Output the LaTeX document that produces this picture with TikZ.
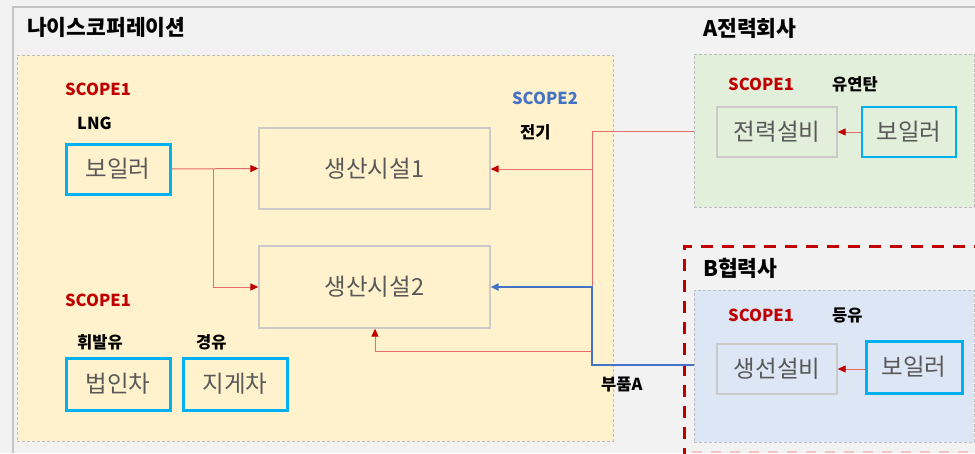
\documentclass[tikz,border=0pt]{standalone}
\usepackage{fontspec}
\setmainfont{Noto Sans CJK KR}
\usetikzlibrary{arrows.meta}
\definecolor{bgc}{HTML}{F2F2F2}
\definecolor{framec}{HTML}{C4C4C4}
\definecolor{yel}{HTML}{FFF2CC}
\definecolor{grn}{HTML}{E2EFDA}
\definecolor{blu}{HTML}{DCE6F4}
\definecolor{dred}{HTML}{C00000}
\definecolor{lred}{HTML}{E46C6C}
\definecolor{sblue}{HTML}{4472C4}
\definecolor{cyanb}{HTML}{00B0F0}
\definecolor{boxg}{HTML}{CACACA}
\definecolor{regb}{HTML}{BDBDBD}
\definecolor{txtg}{HTML}{595959}
\definecolor{pinkd}{HTML}{F2C4C4}
\tikzset{
  region/.style={draw=regb, line width=0.8pt, dash pattern=on 3pt off 2pt},
  facility/.style={draw=boxg, line width=1.3pt, minimum width=#1, inner sep=0pt, font=\fontsize{23.5}{23.5}\selectfont, text=txtg},
  boiler/.style={draw=cyanb, line width=3pt, minimum width=#1, inner sep=0pt, font=\fontsize{23.5}{23.5}\selectfont, text=txtg},
  title/.style={font=\fontsize{21.5}{21.5}\selectfont\bfseries, anchor=west, inner sep=0pt},
  scopelab/.style={font=\fontsize{16.5}{16.5}\selectfont\bfseries, text=dred, anchor=west, inner sep=0pt},
  fuel/.style={font=\fontsize{16.5}{16.5}\selectfont\bfseries, anchor=west, inner sep=0pt},
  redflow/.style={draw=lred, line width=1pt, -{Triangle[length=8pt,width=7pt,color=dred]}},
  redline/.style={draw=lred, line width=1pt},
  blueflow/.style={draw=sblue, line width=2pt, -{Triangle[length=8pt,width=7pt]}},
}
\begin{document}
\begin{tikzpicture}[x=1pt,y=-1pt]
\useasboundingbox (0,0) rectangle (975,453);
\fill[bgc] (0,0) rectangle (975,453);
% outer frame
\draw[framec, line width=2pt] (13,453) -- (13,7) -- (975,7);
% regions
\node[region, fill=yel, minimum width=596pt, minimum height=386pt, inner sep=0pt] (nice) at (315,248) {};
\node[region, fill=grn, minimum width=280pt, minimum height=153pt, inner sep=0pt] (apow) at (834,130.5) {};
\node[region, fill=blu, minimum width=280pt, minimum height=152pt, inner sep=0pt] (bsup) at (834,366) {};
\draw[dred, line width=3pt, dash pattern=on 12pt off 9pt] (684,460) -- (684,246) -- (985,246);
\draw[pinkd, line width=2pt, dash pattern=on 10pt off 9pt] (692,452) -- (975,452);
% titles
\node[title] (t1) at (27,27) {나이스코퍼레이션};
\node[title] (t2) at (703,28) {A전력회사};
\node[title] (t3) at (703,268) {B협력사};
% labels
\node[scopelab] (s1) at (65,89) {SCOPE1};
\node[fuel] (f1) at (77,123) {LNG};
\node[scopelab] (s2) at (65,300) {SCOPE1};
\node[fuel] (f2) at (77,342) {휘발유};
\node[fuel] (f3) at (196,342) {경유};
\node[scopelab, text=sblue] (s3) at (512,98) {SCOPE2};
\node[fuel] (f4) at (520,132) {전기};
\node[scopelab] (s4) at (728,84) {SCOPE1};
\node[fuel] (f5) at (832,84) {유연탄};
\node[scopelab] (s5) at (728,315) {SCOPE1};
\node[fuel] (f6) at (832,315) {등유};
\node[fuel] (f7) at (601,385) {부품A};
% boxes
\node[boiler=104pt, minimum height=50pt] (b1) at (118,169) {보일러};
\node[facility=231pt, minimum height=81pt] (p1) at (374.5,168.5) {생산시설1};
\node[facility=231pt, minimum height=82pt] (p2) at (374.5,287) {생산시설2};
\node[boiler=104pt, minimum height=52pt] (car1) at (118,384) {법인차};
\node[boiler=104pt, minimum height=52pt] (car2) at (235,384) {지게차};
\node[facility=120pt, minimum height=50pt] (pe) at (777,132) {전력설비};
\node[boiler=94pt, minimum height=50pt, line width=1.5pt] (b2) at (909,132) {보일러};
\node[facility=120pt, minimum height=50pt] (fe) at (777,369) {생선설비};
\node[boiler=96pt, minimum height=52pt] (b3) at (914,367) {보일러};
% junction coordinates
\coordinate (j1) at (213,169);
\coordinate (j2) at (213,287);
\coordinate (ra) at (592,131);
\coordinate (rb) at (592,169);
\coordinate (rc) at (592,351);
\coordinate (rd) at (375,351);
\coordinate (ba) at (592,365);
\coordinate (bb) at (592,287);
% connectors
\draw[redflow] (b1.east) -- (p1.west);
\draw[redflow] (j1) -- (j2) -- (p2.west);
\draw[redline] (apow.west |- ra) -- (ra) -- (rc);
\draw[redflow] (rb) -- (p1.east |- rb);
\draw[redflow] (rc) -- (rd) -- (p2.south -| rd);
\draw[redflow] (b2.west) -- (pe.east);
\draw[redflow] (b3.west |- fe.east) -- (fe.east);
\draw[blueflow] (bsup.west |- ba) -- (ba) -- (bb) -- (p2.east |- bb);
\end{tikzpicture}
\end{document}
